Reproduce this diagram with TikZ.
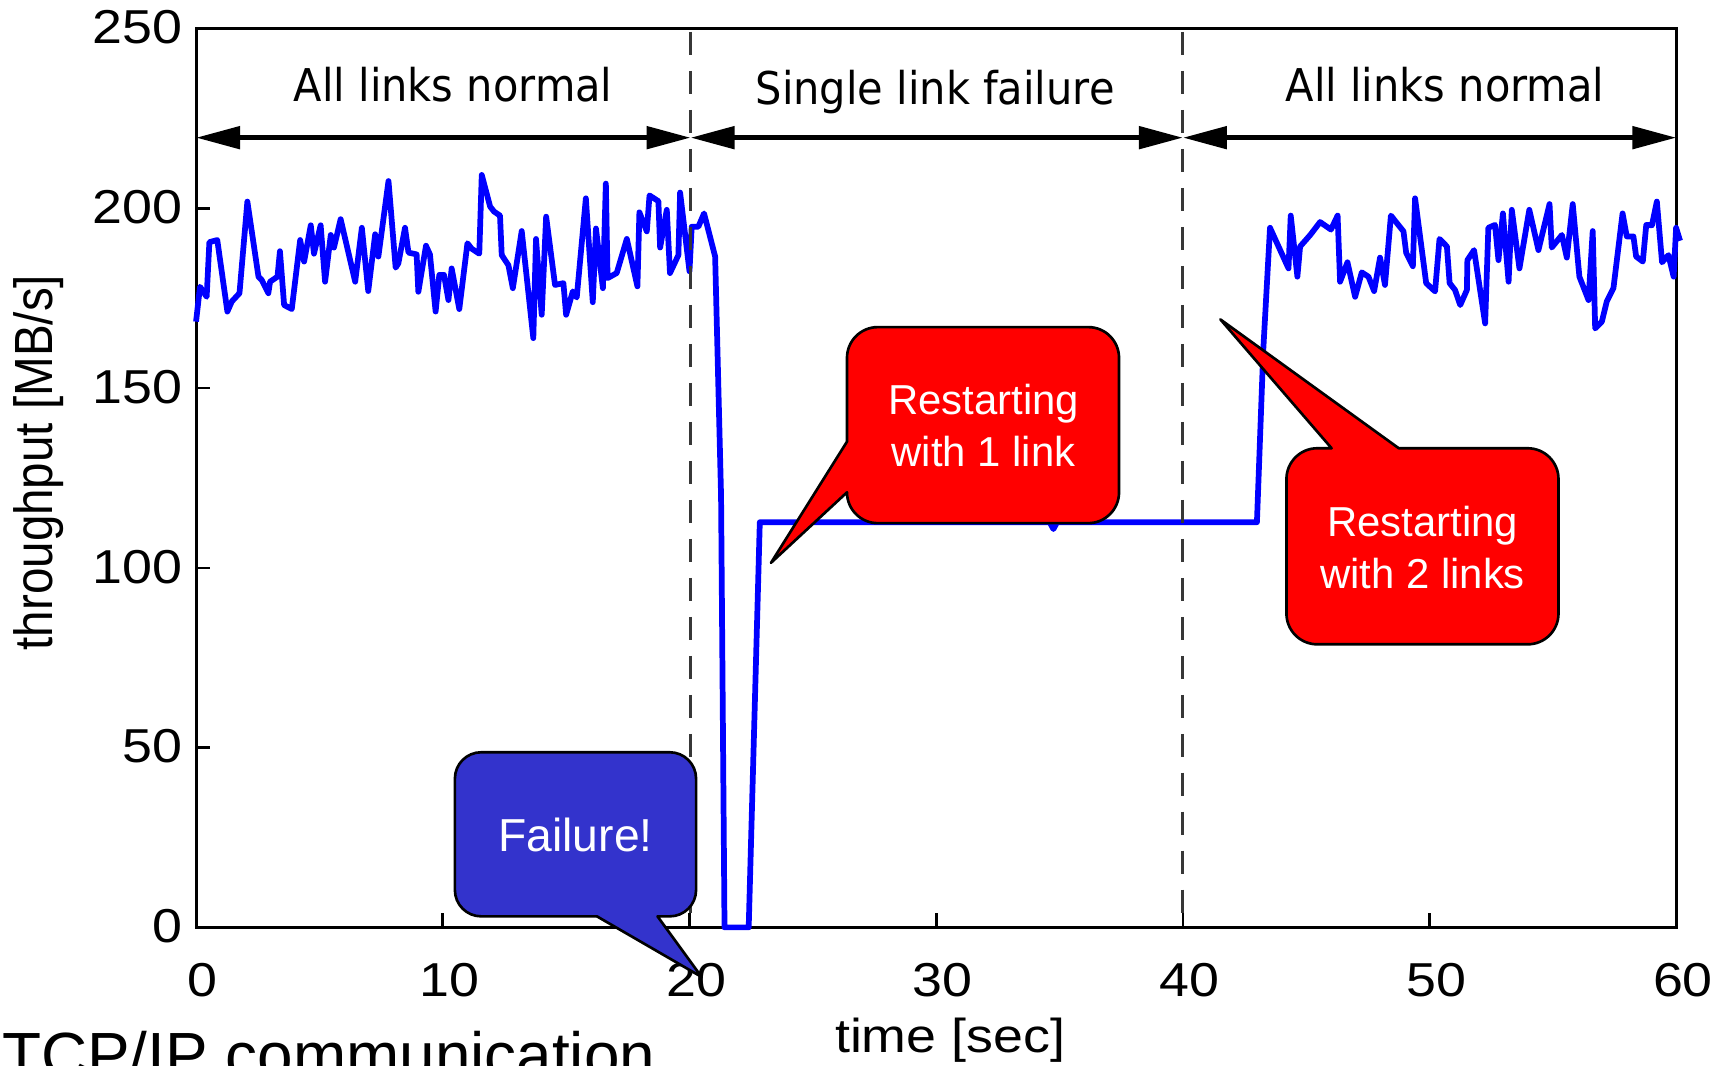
\documentclass[tikz,border=0pt]{standalone}
\usepackage{fontspec}
\setmainfont{Liberation Sans}
\newfontfamily\plotfont{Liberation Sans}[FakeStretch=1.13]
\newfontfamily\bandfont{DejaVu Sans}[FakeStretch=0.92]
\usetikzlibrary{arrows.meta}
\definecolor{calloutred}{RGB}{255,0,0}
\definecolor{calloutblue}{RGB}{51,51,204}
\definecolor{traceblue}{RGB}{0,0,255}
\definecolor{divider}{RGB}{55,55,55}

\begin{document}
\begin{tikzpicture}[x=0.5pt,y=-0.5pt,
  axisline/.style={line width=1.4pt, black},
  tickline/.style={line width=1.2pt, black},
  divline/.style={line width=1.3pt, divider, dash pattern=on 10.5pt off 7.2pt, dash phase=16.2pt},
  spanarrow/.style={line width=2.3pt, {Triangle[length=20pt,width=10pt]}-{Triangle[length=20pt,width=10pt]}},
  ticklabel/.style={font=\plotfont\fontsize{21.6}{26}\selectfont, inner sep=0pt},
  bandlabel/.style={font=\bandfont\fontsize{20.5}{24}\selectfont, inner sep=0pt, anchor=base},
  callout/.style={draw=black, line width=1.2pt, line join=round},
  callouttext/.style={text=white, align=center, inner sep=0pt, font=\fontsize{19}{23.45}\selectfont},
  trace/.style={traceblue, line width=2.6pt, line join=round}
]
\useasboundingbox (0,0) rectangle (1568,967);
\fill[white] (0,0) rectangle (1568,967);

% plot frame
\coordinate (ax-sw) at (178,842);
\coordinate (ax-ne) at (1522,26);
\draw[axisline] (ax-sw) rectangle (ax-ne);
\foreach \t in {10,20,30,40,50}
  \draw[tickline] ({178+22.4*\t},842) -- ++(0,-13);
\foreach \v in {50,100,150,200}
  \draw[tickline] (178,{842-3.264*\v}) -- ++(13,0);

% measured throughput
\begin{scope}[shift={(178,842)}, x=11.2pt, y=1.632pt]
\draw[trace] plot coordinates {
 (0,168.5) (0.16,178.2) (0.43,175.4) (0.54,190.6) (0.86,191.2) (1.27,171.3) (1.45,174.1) (1.76,176.4)
 (2.08,201.9) (2.53,181.0) (2.66,180.1) (2.93,176.4) (3.0,179.6) (3.30,181.0) (3.40,188.1) (3.57,173.1)
 (3.88,172.0) (4.22,191.2) (4.38,185.2) (4.65,195.3) (4.78,187.4) (5.05,195.3) (5.23,179.6) (5.46,192.6)
 (5.59,189.1) (5.86,197.0) (6.45,179.6) (6.72,194.6) (6.98,177.0) (7.26,192.8) (7.39,186.6) (7.80,207.6)
 (8.09,183.5) (8.20,184.7) (8.47,194.6) (8.61,187.7) (8.94,187.2) (9.01,176.8) (9.32,189.6) (9.48,187.2)
 (9.71,171.3) (9.86,181.5) (10.05,181.5) (10.23,174.5) (10.36,183.3) (10.67,172.0) (11.0,190.3) (11.17,188.8)
 (11.48,187.4) (11.58,209.3) (11.92,200.5) (12.08,199.1) (12.32,198.0) (12.39,187.0) (12.66,184.2) (12.84,177.8)
 (13.2,193.7) (13.67,163.9) (13.78,191.5) (14.01,170.4) (14.19,197.7) (14.55,178.7) (14.89,179.2) (15.0,170.4)
 (15.27,176.9) (15.43,175.2) (15.80,202.8) (16.08,173.9) (16.21,194.4) (16.49,177.8) (16.61,206.9) (16.68,180.6)
 (17.05,182.0) (17.46,191.5) (17.89,178.3) (17.97,198.9) (18.27,193.6) (18.38,203.6) (18.74,202.0) (18.81,189.1)
 (19.08,199.6) (19.21,182.0) (19.55,187.0) (19.62,204.4) (20.0,182.5) (20.09,194.9) (20.36,194.9) (20.59,198.6)
 (21.04,186.6) (21.28,120) (21.42,0) (22.4,0) (22.85,112.7) (34.6,112.7) (34.75,110.8) (34.9,112.7)
 (43.0,112.7) (43.26,161) (43.53,194.6) (44.28,183.3) (44.37,198.0) (44.64,181.0) (44.75,189.4) (45.16,192.6)
 (45.56,196.2) (46.0,194.1) (46.27,198.0) (46.37,179.6) (46.67,185.0) (46.98,175.4) (47.25,182.2) (47.52,181.0)
 (47.75,177.0) (47.99,186.3) (48.19,178.7) (48.43,198.0) (48.94,193.6) (49.05,187.6) (49.32,183.9) (49.41,202.8)
 (49.86,179.2) (50.22,176.9) (50.40,191.5) (50.70,189.4) (50.81,179.2) (51.03,177.3) (51.24,173.1) (51.51,177.3)
 (51.53,185.6) (51.80,188.4) (52.25,168.0) (52.38,194.6) (52.65,195.4) (52.79,185.6) (52.97,198.6) (53.20,179.6)
 (53.33,199.6) (53.64,183.3) (54.04,199.6) (54.41,188.4) (54.86,201.2) (54.95,189.1) (55.36,192.6) (55.56,186.3)
 (55.80,201.2) (56.07,181.0) (56.44,174.5) (56.61,193.7) (56.71,166.6) (56.98,168.5) (57.18,174.1) (57.45,177.8)
 (57.82,198.6) (57.99,192.2) (58.26,192.2) (58.37,186.6) (58.64,185.2) (58.78,195.4) (59.01,195.3) (59.21,201.9)
 (59.42,185.0) (59.68,187.0) (59.89,181.0) (59.99,194.6) (60.15,191.0)};
\end{scope}

% phase boundaries
\coordinate (d20top) at (627,26);  \coordinate (d20bot) at (627,842);
\coordinate (d40top) at (1074,26); \coordinate (d40bot) at (1074,842);
\draw[divline] (d20top) -- (d20bot);
\draw[divline] (d40top) -- (d40bot);

% tick labels and axis titles
\foreach \t in {0,10,...,60}
  \node[ticklabel] (xl\t) at ({184+22.4*\t},890) {\t};
\foreach \v in {0,50,...,250}
  \node[ticklabel, anchor=east] (yl\v) at (166,{841-3.264*\v}) {\v};
\node[ticklabel, anchor=base] (xtitle) at (862.6,956) {time [sec]};
\node[font=\fontsize{21.6}{26}\selectfont, inner sep=0pt, anchor=base, rotate=90] (ytitle) at (48,420)
  {\scalebox{1}[1.13]{throughput [MB/s]}};

% phase spans
\coordinate (s0) at (178,125);
\coordinate (s1) at (627,125);
\coordinate (s2) at (1074,125);
\coordinate (s3) at (1522,125);
\draw[spanarrow] (s0) -- (s1);
\draw[spanarrow] (s1) -- (s2);
\draw[spanarrow] (s2) -- (s3);
\node[bandlabel] (band1) at (411.4,92.3) {All links normal};
\node[bandlabel] (band2) at (849,95.3) {Single link failure};
\node[bandlabel] (band3) at (1312,92.3) {All links normal};

% callout: failure
\fill[calloutblue, callout]
  (437,683) -- (608,683) .. controls (621.3,683) and (632,693.7) .. (632,707)
  -- (632,808) .. controls (632,821.3) and (621.3,832) .. (608,832)
  -- (597,832) -- (637,887) -- (542,832)
  -- (437,832) .. controls (423.7,832) and (413,821.3) .. (413,808)
  -- (413,707) .. controls (413,693.7) and (423.7,683) .. (437,683) -- cycle;
\node[callouttext, font=\fontsize{21}{25}\selectfont] (failtxt) at (522.5,758) {Failure!};

% callout: restart with one link
\fill[calloutred, callout]
  (797,297) -- (988,297) .. controls (1003.5,297) and (1016,309.5) .. (1016,325)
  -- (1016,447) .. controls (1016,462.5) and (1003.5,475) .. (988,475)
  -- (797,475) .. controls (781.5,475) and (769,462.5) .. (769,447)
  -- (700,511) -- (769,401)
  -- (769,325) .. controls (769,309.5) and (781.5,297) .. (797,297) -- cycle;
\node[callouttext] (r1txt) at (893,386.4) {Restarting\\with 1 link};

% callout: restart with two links
\fill[calloutred, callout]
  (1168,496) -- (1168,435) .. controls (1168,419.5) and (1180.5,407) .. (1196,407)
  -- (1209,407) -- (1108,290) -- (1270,407)
  -- (1387,407) .. controls (1402.5,407) and (1415,419.5) .. (1415,435)
  -- (1415,557) .. controls (1415,572.5) and (1402.5,585) .. (1387,585)
  -- (1196,585) .. controls (1180.5,585) and (1168,572.5) .. (1168,557) -- cycle;
\node[callouttext] (r2txt) at (1291.6,496.9) {Restarting\\with 2 links};

% caption line
\node[font=\fontsize{29}{34}\selectfont, anchor=base west, inner sep=0pt] (caption) at (1.5,978) {TCP/IP communication};
\end{tikzpicture}
\end{document}
